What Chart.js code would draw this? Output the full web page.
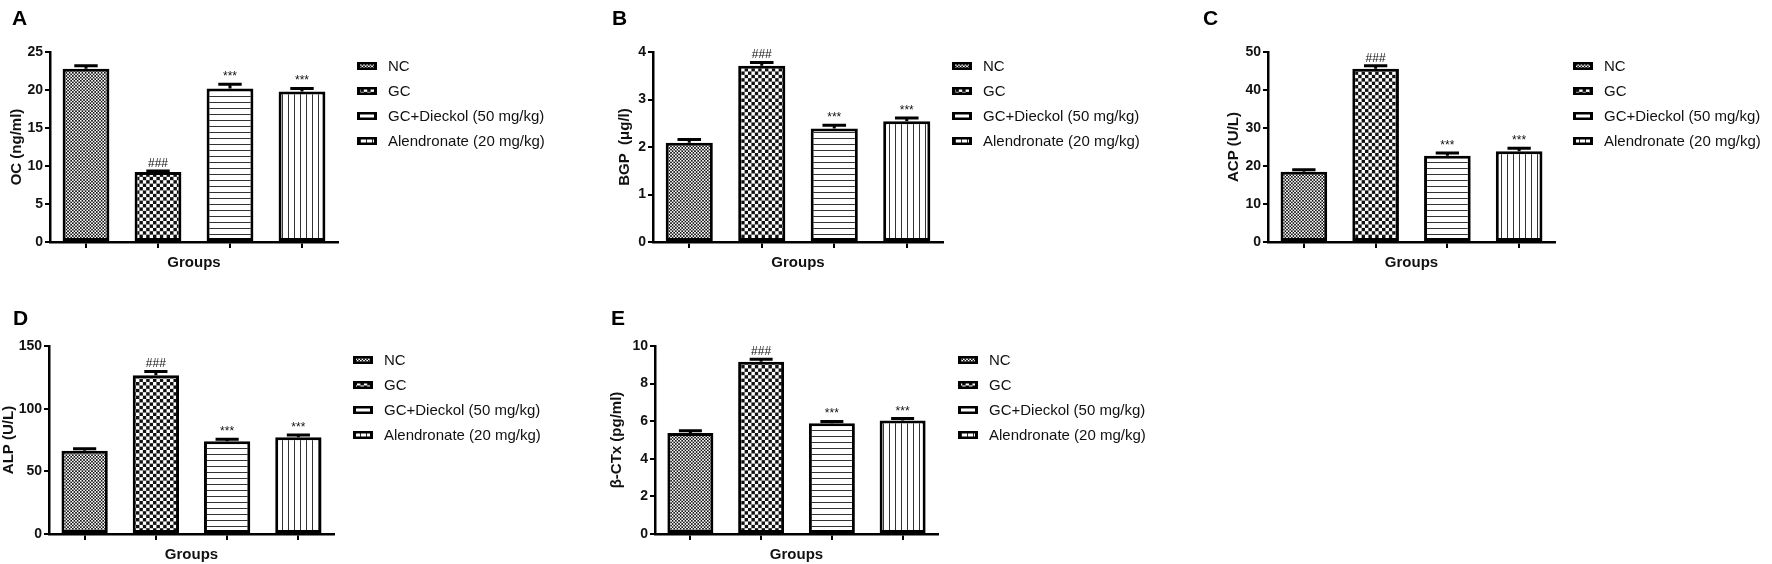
<!DOCTYPE html>
<html>
<head>
<meta charset="utf-8">
<script src="https://cdn.jsdelivr.net/npm/chart.js@4.4.1/dist/chart.umd.min.js"></script>
<style>
  body { margin: 0; background: #fff; }
  #wrap { position: relative; width: 1772px; height: 564px; overflow: hidden; background: #fff; }
  canvas { position: absolute; }
</style>
</head>
<body>
<div id="wrap"></div>
<script>
// groups and significance marks, same for every panel
const groups = ['NC', 'GC', 'GC+Dieckol (50 mg/kg)', 'Alendronate (20 mg/kg)'];
const marks = ['', '###', '***', '***'];

// A - OC
const ocValues = [22.8, 9.2, 20.2, 19.8];
const ocErrors = [0.4, 0.15, 0.55, 0.4];
const ocTicks = [0, 5, 10, 15, 20, 25];

// B - BGP
const bgpValues = [2.09, 3.71, 2.39, 2.54];
const bgpErrors = [0.07, 0.07, 0.07, 0.07];
const bgpTicks = [0, 1, 2, 3, 4];

// C - ACP
const acpValues = [18.5, 45.6, 22.7, 23.9];
const acpErrors = [0.5, 0.8, 0.7, 0.8];
const acpTicks = [0, 10, 20, 30, 40, 50];

// D - ALP
const alpValues = [66.5, 126.7, 74, 77.2];
const alpErrors = [1.6, 3, 1.5, 1.7];
const alpTicks = [0, 50, 100, 150];

// E - beta-CTx
const ctxValues = [5.37, 9.16, 5.89, 6.04];
const ctxErrors = [0.12, 0.13, 0.1, 0.1];
const ctxTicks = [0, 2, 4, 6, 8, 10];

const FONT = "'Liberation Sans', Arial, sans-serif";

function tile(w, h, draw, scale) {
  const c = document.createElement('canvas');
  c.width = w; c.height = h;
  const g = c.getContext('2d');
  g.fillStyle = '#fff';
  g.fillRect(0, 0, w, h);
  g.fillStyle = '#111';
  draw(g);
  const pat = g.createPattern(c, 'repeat');
  if (scale) pat.setTransform(new DOMMatrix().scale(scale));
  return pat;
}

const fills = [
  tile(4, 4, g => { g.fillRect(0, 0, 2, 2); g.fillRect(2, 2, 2, 2); }, 0.8),
  tile(8, 8, g => { g.fillRect(0, 0, 4, 4); g.fillRect(4, 4, 4, 4); }, 0.85),
  tile(6, 6, g => { g.fillStyle = '#333'; g.fillRect(0, 0, 6, 1); }),
  tile(6, 6, g => { g.fillStyle = '#333'; g.fillRect(0, 0, 1, 6); })
];

const panels = [
  { letter: 'A', title: 'OC (ng/ml)', values: ocValues, errors: ocErrors, ticks: ocTicks,
    left: 0, top: 0, w: 595, h: 272, padLeft: 8, yWidth: 42, padTop: 52, padRight: 257,
    letterX: 12, letterY: 25, legendGap: 19 },
  { letter: 'B', title: 'BGP  (\u03bcg/l)', values: bgpValues, errors: bgpErrors, ticks: bgpTicks,
    left: 595, top: 0, w: 600, h: 272, padLeft: 21, yWidth: 37, padTop: 52, padRight: 252,
    letterX: 17, letterY: 25, legendGap: 9 },
  { letter: 'C', title: 'ACP (U/L)', values: acpValues, errors: acpErrors, ticks: acpTicks,
    left: 1195, top: 0, w: 577, h: 272, padLeft: 30, yWidth: 43, padTop: 52, padRight: 217,
    letterX: 8, letterY: 25, legendGap: 18 },
  { letter: 'D', title: 'ALP (U/L)', values: alpValues, errors: alpErrors, ticks: alpTicks,
    left: 0, top: 280, w: 595, h: 284, padLeft: 0, yWidth: 49, padTop: 66, padRight: 261,
    letterX: 13, letterY: 45, legendGap: 19 },
  { letter: 'E', title: '\u03b2-CTx (pg/ml)', values: ctxValues, errors: ctxErrors, ticks: ctxTicks,
    left: 595, top: 280, w: 600, h: 284, padLeft: 13, yWidth: 47, padTop: 66, padRight: 257,
    letterX: 16, letterY: 45, legendGap: 20 }
];

const wrap = document.getElementById('wrap');

function makeChart(p) {
  const cv = document.createElement('canvas');
  cv.width = p.w; cv.height = p.h;
  cv.style.left = p.left + 'px';
  cv.style.top = p.top + 'px';
  cv.style.width = p.w + 'px';
  cv.style.height = p.h + 'px';
  wrap.appendChild(cv);

  const extras = {
    id: 'extras',
    afterDatasetsDraw(chart) {
      const ctx = chart.ctx;
      const area = chart.chartArea;
      const y = chart.scales.y;
      const bars = chart.getDatasetMeta(0).data;
      ctx.save();
      // error bars (upper only) and significance marks
      bars.forEach((bar, i) => {
        const top = y.getPixelForValue(p.values[i] + p.errors[i]);
        const half = bar.width * 0.25;
        ctx.beginPath();
        ctx.moveTo(bar.x, bar.y);
        ctx.lineTo(bar.x, top);
        ctx.moveTo(bar.x - half, top);
        ctx.lineTo(bar.x + half, top);
        ctx.lineWidth = 3;
        ctx.strokeStyle = '#000';
        ctx.stroke();
        if (marks[i]) {
          ctx.fillStyle = '#111';
          ctx.font = '12px ' + FONT;
          ctx.textAlign = 'center';
          ctx.textBaseline = 'alphabetic';
          ctx.fillText(marks[i], bar.x, top - 4);
        }
      });
      // legend
      groups.forEach((g, i) => {
        const cy = area.top + 14 + i * 25;
        const sx = area.right + p.legendGap;
        ctx.fillStyle = '#000';
        ctx.fillRect(sx, cy - 4, 20, 8);
        ctx.fillStyle = i === 2 ? '#fff' : fills[i];
        ctx.fillRect(sx + 3, cy - 1.5, 14, 3);
        ctx.fillStyle = '#111';
        ctx.font = '15px ' + FONT;
        ctx.textAlign = 'left';
        ctx.textBaseline = 'middle';
        ctx.fillText(g, sx + 31, cy + 1);
      });
      // panel letter
      ctx.fillStyle = '#000';
      ctx.font = 'bold 21px ' + FONT;
      ctx.textAlign = 'left';
      ctx.textBaseline = 'alphabetic';
      ctx.fillText(p.letter, p.letterX, p.letterY);
      ctx.restore();
    }
  };

  new Chart(cv, {
    type: 'bar',
    data: {
      labels: groups,
      datasets: [{
        data: p.values,
        backgroundColor: fills,
        borderColor: '#000',
        borderWidth: 3,
        borderSkipped: false,
        barPercentage: 0.65,
        categoryPercentage: 1
      }]
    },
    options: {
      responsive: false,
      animation: false,
      devicePixelRatio: 1,
      layout: { padding: { left: p.padLeft, right: p.padRight, top: p.padTop, bottom: 0 } },
      plugins: { legend: { display: false }, tooltip: { enabled: false } },
      scales: {
        x: {
          grid: { offset: false, drawOnChartArea: false, drawTicks: true, tickLength: 6, lineWidth: 2, color: '#000' },
          border: { color: '#000', width: 2.5 },
          ticks: { callback: () => '' },
          title: { display: true, text: 'Groups', color: '#111', padding: 0,
                   font: { family: FONT, size: 15, weight: 'bold', lineHeight: 1.2 } },
          afterFit: s => { s.height = 30; }
        },
        y: {
          min: 0,
          max: p.ticks[p.ticks.length - 1],
          afterBuildTicks: s => { s.ticks = p.ticks.map(v => ({ value: v })); },
          grid: { drawOnChartArea: false, drawTicks: true, tickLength: 5, lineWidth: 2, color: '#000' },
          border: { color: '#000', width: 2.5 },
          ticks: { color: '#111', padding: 2, font: { family: FONT, size: 14, weight: 'bold' } },
          title: { display: true, text: p.title, color: '#111', padding: 0,
                   font: { family: FONT, size: 15, weight: 'bold', lineHeight: 1.2 } },
          afterFit: s => { s.width = p.yWidth; }
        }
      }
    },
    plugins: [extras]
  });
}

panels.forEach(makeChart);
</script>
</body>
</html>
